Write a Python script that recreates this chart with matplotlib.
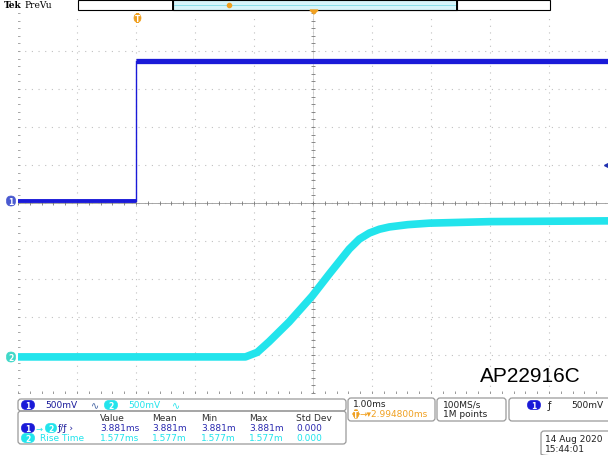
import numpy as np
import matplotlib
matplotlib.use('Agg')
import matplotlib.pyplot as plt
from matplotlib.patches import FancyBboxPatch, Rectangle, Polygon

# scope settings
VOLTS_PER_DIV = 0.5
MS_PER_DIV = 1.0
DELAY_MS = 2.9948
CH1_OFFSET_DIV = 0.05
CH2_OFFSET_DIV = -4.05
TRIG_LEVEL_V = 0.5

# channel 1 (EN step), time in ms, volts
ch1_t = [-2.005, 0.0, 0.0, 7.995]
ch1_v = [0.0, 0.0, 1.84, 1.84]

# channel 2 (output rise)
ch2_t = [-2.005, 1.85, 2.05, 2.25, 2.59, 2.98, 3.27, 3.61, 3.78, 3.95, 4.12, 4.29, 4.60, 4.97, 6.00, 7.995]
ch2_v = [0.0, 0.0, 0.06, 0.20, 0.46, 0.80, 1.09, 1.42, 1.55, 1.63, 1.68, 1.71, 1.74, 1.76, 1.78, 1.79]

# measurement table
meas_cols = ['Value', 'Mean', 'Min', 'Max', 'Std Dev']
meas_delay = ['3.881ms', '3.881m', '3.881m', '3.881m', '0.000']
meas_rise = ['1.577ms', '1.577m', '1.577m', '1.577m', '0.000']

BLUE = '#1a1ad8'
CYAN = '#22e4ec'
ORANGE = '#f0a020'
W, H = 608, 456


def to_div(v, offset):
    return np.asarray(v) / VOLTS_PER_DIV + offset


fig = plt.figure(figsize=(W / 100, H / 100), dpi=100)
fig.patch.set_facecolor('white')

ax = fig.add_axes([18 / W, (H - 394) / H, 590 / W, 380 / H])
ax.set_xlim(DELAY_MS - 5 * MS_PER_DIV, DELAY_MS + 5 * MS_PER_DIV)
ax.set_ylim(-5, 5)
for s in ax.spines.values():
    s.set_visible(False)
ax.set_xticks([])
ax.set_yticks([])

# graticule
for i in range(-4, 5):
    xg = DELAY_MS + i * MS_PER_DIV
    ax.axvline(xg, color='#c0c0c0', lw=0.8, ls=(0, (1, 5)), zorder=0)
for j in range(-4, 5):
    ax.axhline(j, color='#c0c0c0', lw=0.8, ls=(0, (1, 5)), zorder=0)
ax.axvline(DELAY_MS, color='#c8c8c8', lw=0.5, zorder=0)
ax.axhline(0, color='#9a9a9a', lw=0.6, zorder=0)
xt = DELAY_MS + np.arange(-5, 5.01, 0.2) * MS_PER_DIV
yt = np.arange(-5, 5.01, 0.2)
ax.plot(xt, np.zeros_like(xt), '|', color='#777777', ms=3, mew=0.6, zorder=0)
ax.plot(np.full_like(yt, DELAY_MS), yt, '_', color='#777777', ms=3, mew=0.6, zorder=0)
ax.plot(xt, np.full_like(xt, -5), '|', color='#888888', ms=3, mew=0.6, zorder=0)
ax.plot(np.full_like(yt, DELAY_MS - 5), yt, '_', color='#999999', ms=3, mew=0.6, zorder=0)
ax.axhline(-5, color='#999999', lw=0.6, zorder=0)

# traces
ax.plot(ch2_t, to_div(ch2_v, CH2_OFFSET_DIV), color=CYAN, lw=5.5,
        solid_capstyle='butt', solid_joinstyle='round', zorder=3)
ch1_div = to_div(ch1_v, CH1_OFFSET_DIV)
ax.plot(ch1_t[:2], ch1_div[:2], color=BLUE, lw=2.8, solid_capstyle='butt', zorder=4)
ax.plot(ch1_t[2:], ch1_div[2:], color=BLUE, lw=3.8, solid_capstyle='butt', zorder=4)
ax.plot(ch1_t[1:3], ch1_div[1:3], color=BLUE, lw=1.0, zorder=4)

# overlay in pixel coordinates
ov = fig.add_axes([0, 0, 1, 1])
ov.set_xlim(0, W)
ov.set_ylim(H, 0)
ov.axis('off')


def box(x0, y0, x1, y1, ec='#9a9a9a', fc='none', r=3, lw=0.9):
    ov.add_patch(FancyBboxPatch((x0, y0), x1 - x0, y1 - y0,
                                boxstyle='round,pad=0,rounding_size=%g' % r,
                                ec=ec, fc=fc, lw=lw))


def pill(x, y, label, color, w=13, h=9, tc='white'):
    ov.add_patch(FancyBboxPatch((x - w / 2, y - h / 2), w, h,
                                boxstyle='round,pad=0,rounding_size=4.5',
                                ec=color, fc=color, lw=0.5))
    ov.text(x, y + 0.5, label, color=tc, fontsize=5.5, fontweight='bold',
            ha='center', va='center')


# header
ov.text(4, 5, 'Tek', fontsize=6.5, fontweight='bold', family='DejaVu Serif',
        va='center', ha='left')
ov.text(24, 5, 'PreVu', fontsize=6.5, family='DejaVu Serif', va='center', ha='left')
ov.add_patch(Rectangle((78, 0.5), 472, 10, ec='black', fc='white', lw=0.8))
ov.add_patch(Rectangle((173, 0.5), 284, 10, ec='black', fc='#d6f4fa', lw=0.8))
ov.plot([173, 457], [5.5, 5.5], color='#7fdbe8', lw=0.6)
ov.plot([173, 173], [0, 11], color='black', lw=1.4)
ov.plot([457, 457], [0, 11], color='black', lw=1.4)
ov.plot(229, 6, 'o', color=ORANGE, ms=3)
ov.add_patch(Polygon([[310, 11], [318, 11], [314, 15]], color=ORANGE))
pill(137.5, 19, 'T', ORANGE, w=7, h=9)

# channel markers
pill(11, 202, '1', '#4a5ad0', w=9, h=10)
pill(11, 358, '2', '#40d8c8', w=9, h=10)
ax.plot(DELAY_MS + 5 * MS_PER_DIV - 0.02, to_div(TRIG_LEVEL_V, CH1_OFFSET_DIV) - 0.05,
        '<', color='#2030b0', ms=5, clip_on=False, zorder=5)

ov.text(480, 377, 'AP22916C', fontsize=15, family='Liberation Sans', va='center', ha='left')

# bottom panel
box(18, 400, 346, 412)
pill(28, 406, '1', BLUE)
ov.text(45, 406, '500mV', fontsize=6.5, color='#1a1a9a', va='center')
ov.text(91, 406, '\u223f', fontsize=7, color='#4060a0', va='center')
pill(111, 406, '2', CYAN)
ov.text(128, 406, '500mV', fontsize=6.5, color=CYAN, va='center')
ov.text(172, 406, '\u223f', fontsize=7, color=CYAN, va='center')

box(18, 412, 346, 445)
col_x = [100, 152, 201, 249, 296]
for cx, name in zip(col_x, meas_cols):
    ov.text(cx, 419, name, fontsize=6.5, color='#303030', va='center')
pill(28, 429, '1', BLUE)
ov.text(36, 429, '\u2192', fontsize=6, color=CYAN, va='center')
pill(51, 429, '2', CYAN, w=11)
ov.text(58, 429, '\u0192/\u0192 \u203a', fontsize=6.5, color='#1a1a9a', va='center')
for cx, val in zip(col_x, meas_delay):
    ov.text(cx, 429, val, fontsize=6.5, color='#2a2ab0', va='center')
pill(28, 439, '2', CYAN)
ov.text(40, 439, 'Rise Time', fontsize=6.5, color=CYAN, va='center')
for cx, val in zip(col_x, meas_rise):
    ov.text(cx, 439, val, fontsize=6.5, color=CYAN, va='center')

box(348, 399, 435, 422)
ov.text(353, 405, '1.00ms', fontsize=6.5, color='#202020', va='center')
pill(356, 415, 'T', ORANGE, w=6, h=8)
ov.text(360, 415, '\u2192\u25be2.994800ms', fontsize=6.5, color=ORANGE, va='center')

box(437, 399, 506, 422)
ov.text(443, 405, '100MS/s', fontsize=6.5, color='#202020', va='center')
ov.text(443, 415, '1M points', fontsize=6.5, color='#202020', va='center')

box(509, 399, 612, 422)
pill(534, 406, '1', BLUE)
ov.text(548, 406, '\u0192', fontsize=7, color='#202020', va='center')
ov.text(571, 406, '500mV', fontsize=6.5, color='#202020', va='center')

box(541, 432, 612, 458)
ov.text(545, 440, '14 Aug 2020', fontsize=6.5, color='#202020', va='center')
ov.text(545, 450, '15:44:01', fontsize=6.5, color='#202020', va='center')

fig.savefig('out.png', dpi=100)
